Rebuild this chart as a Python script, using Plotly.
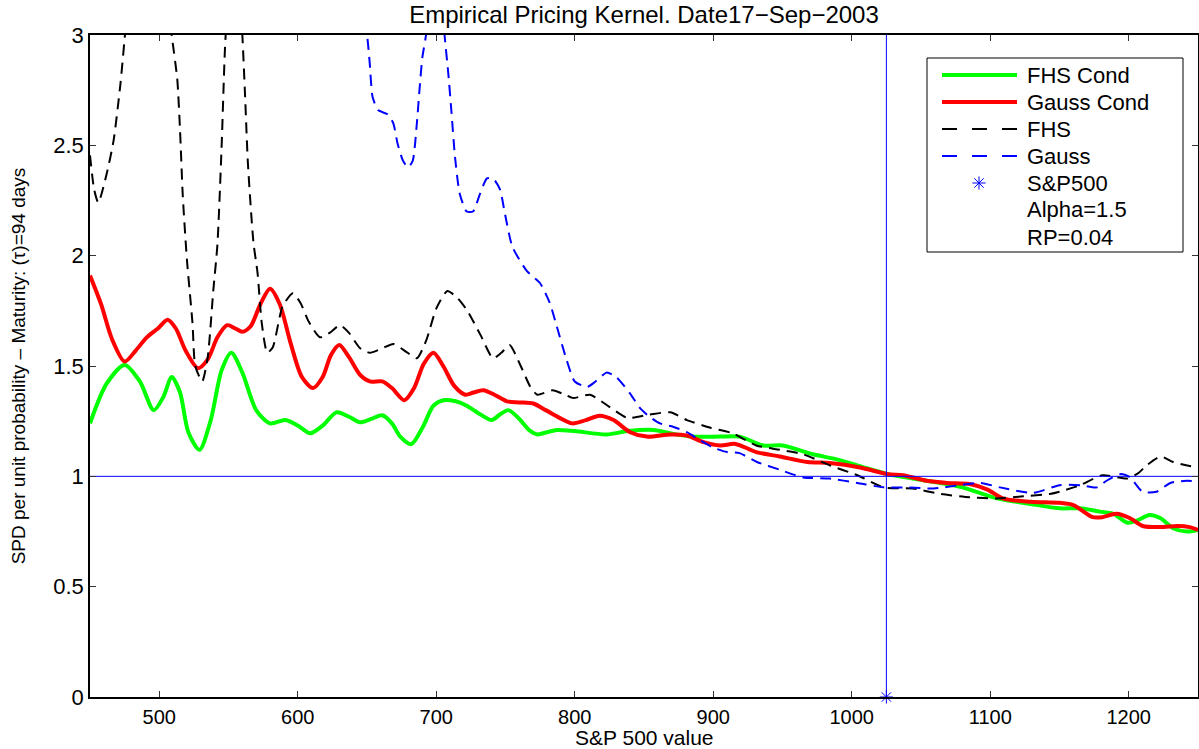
import plotly.graph_objects as go

# S&P 500 levels and kernel values
fhs_cond_x = [450, 462, 475, 486, 496, 503, 509, 515, 521, 529, 537, 545, 552, 560, 570, 580, 591, 600,
              609, 618, 628, 637, 645, 653, 661, 668, 674, 682, 690, 698, 705, 714, 722, 732, 740, 746,
              752, 760, 767, 773, 780, 787, 800, 823, 838, 857, 869, 885, 905, 919, 936, 950, 972, 987,
              1004, 1026, 1044, 1064, 1080, 1105, 1129, 1150, 1165, 1179, 1189, 1199, 1206, 1215, 1223,
              1232, 1242, 1250]
fhs_cond_y = [1.24, 1.42, 1.505, 1.43, 1.30, 1.36, 1.45, 1.38, 1.20, 1.12, 1.25, 1.48, 1.56, 1.47, 1.30,
              1.24, 1.255, 1.23, 1.195, 1.23, 1.29, 1.27, 1.245, 1.26, 1.277, 1.24, 1.18, 1.146, 1.22,
              1.32, 1.345, 1.34, 1.32, 1.28, 1.255, 1.28, 1.30, 1.26, 1.21, 1.19, 1.20, 1.21, 1.205, 1.19,
              1.205, 1.21, 1.195, 1.18, 1.18, 1.18, 1.14, 1.14, 1.10, 1.08, 1.05, 1.01, 0.99, 0.97, 0.95,
              0.90, 0.875, 0.855, 0.855, 0.84, 0.83, 0.79, 0.80, 0.825, 0.81, 0.765, 0.75, 0.757]

gauss_cond_x = [450, 458, 466, 475, 483, 491, 499, 506, 512, 519, 528, 535, 542, 549, 555, 560, 566, 573,
                580, 587, 595, 603, 611, 618, 624, 630, 637, 645, 652, 661, 668, 677, 684, 691, 698, 705,
                713, 721, 727, 734, 742, 751, 760, 770, 779, 789, 798, 808, 818, 828, 840, 852, 869, 881,
                893, 905, 916, 931, 948, 968, 984, 1006, 1026, 1037, 1054, 1069, 1085, 1098, 1109, 1129,
                1150, 1160, 1174, 1181, 1191, 1201, 1210, 1223, 1235, 1244, 1250]
gauss_cond_y = [1.91, 1.78, 1.62, 1.52, 1.57, 1.63, 1.67, 1.71, 1.67, 1.57, 1.49, 1.53, 1.63, 1.685, 1.67,
                1.655, 1.68, 1.78, 1.85, 1.78, 1.60, 1.45, 1.40, 1.45, 1.55, 1.595, 1.54, 1.46, 1.43, 1.43,
                1.40, 1.345, 1.40, 1.51, 1.56, 1.50, 1.41, 1.37, 1.38, 1.39, 1.37, 1.34, 1.335, 1.33, 1.30,
                1.265, 1.24, 1.255, 1.275, 1.255, 1.20, 1.18, 1.19, 1.185, 1.155, 1.14, 1.147, 1.11, 1.09,
                1.065, 1.06, 1.04, 1.01, 1.005, 0.98, 0.97, 0.965, 0.94, 0.90, 0.885, 0.88, 0.87, 0.815,
                0.815, 0.83, 0.81, 0.775, 0.77, 0.775, 0.77, 0.757]

fhs_x = [450, 453, 456, 462, 467, 472, 476, 482, 492, 502, 509, 513, 515, 517, 520, 524, 526, 531, 535,
         539, 542, 545, 547.5, 551, 554, 557, 560, 562, 564, 568, 571, 574, 578, 582, 589, 596.5, 602,
         608, 616, 623, 630.5, 637, 645, 652, 661, 669, 677, 686, 693, 700, 708, 715, 722, 732, 741, 747,
         753, 761, 768, 773, 784, 793, 799, 811, 825, 838, 854, 869, 881, 898, 914, 931, 948, 965, 984,
         1004, 1023, 1044, 1064, 1085, 1105, 1124, 1143, 1150, 1165, 1181, 1199, 1207, 1213, 1223, 1232,
         1244, 1250]
fhs_y = [2.455, 2.30, 2.24, 2.37, 2.52, 2.78, 3.05, 3.4, 3.7, 3.4, 3.0, 2.80, 2.57, 2.27, 1.98, 1.695,
         1.50, 1.43, 1.54, 1.84, 2.05, 2.49, 2.945, 3.3, 3.4, 3.3, 3.0, 2.72, 2.42, 2.06, 1.92, 1.695, 1.56,
         1.585, 1.77, 1.83, 1.785, 1.70, 1.63, 1.65, 1.685, 1.65, 1.58, 1.56, 1.58, 1.60, 1.57, 1.535,
         1.62, 1.76, 1.84, 1.81, 1.755, 1.64, 1.535, 1.56, 1.595, 1.50, 1.405, 1.37, 1.39, 1.37, 1.355,
         1.37, 1.315, 1.265, 1.28, 1.29, 1.255, 1.22, 1.195, 1.14, 1.12, 1.10, 1.05, 1.005, 0.95, 0.945,
         0.92, 0.905, 0.90, 0.91, 0.92, 0.93, 0.96, 1.005, 0.99, 1.015, 1.05, 1.09, 1.065, 1.047, 1.04]

gauss_x = [450, 500, 550, 600, 640, 648, 650, 652, 654, 658, 665, 669, 672, 676, 679.6, 683, 686, 688, 690,
           692.6, 696, 700, 703, 706, 708.5, 711, 713.5, 717, 722, 726.5, 731.6, 736.6, 741, 746, 749.6,
           755, 765.5, 775, 782, 787, 794, 800, 809, 815, 823, 830, 840, 847, 854, 861.5, 871, 881, 890,
           900, 910, 919, 931.5, 948, 965, 984, 1004, 1023, 1040, 1059, 1078, 1093, 1107, 1131, 1150, 1165,
           1177, 1184, 1194, 1201, 1210, 1220, 1230, 1242, 1250]
gauss_y = [4.5, 4.2, 3.9, 3.7, 3.3, 3.05, 3.0, 2.87, 2.72, 2.66, 2.64, 2.60, 2.51, 2.43, 2.40, 2.43, 2.60,
           2.76, 2.90, 3.0, 3.3, 3.4, 3.3, 3.0, 2.84, 2.65, 2.45, 2.28, 2.20, 2.20, 2.28, 2.35, 2.35, 2.30,
           2.19, 2.04, 1.93, 1.875, 1.785, 1.68, 1.53, 1.43, 1.405, 1.43, 1.47, 1.45, 1.375, 1.31, 1.27,
           1.24, 1.225, 1.20, 1.165, 1.13, 1.11, 1.105, 1.065, 1.03, 0.995, 0.99, 0.97, 0.95, 0.95, 0.945,
           0.96, 0.97, 0.95, 0.925, 0.96, 0.96, 0.95, 0.98, 1.01, 0.995, 0.93, 0.93, 0.97, 0.98, 0.975]

spx_level = 1025
x_range = [450, 1250]
y_range = [0, 3]
x_ticks = [500, 600, 700, 800, 900, 1000, 1100, 1200]
y_ticks = [0, 0.5, 1, 1.5, 2, 2.5, 3]
legend_labels = ["FHS Cond", "Gauss Cond", "FHS", "Gauss", "S&P500", "Alpha=1.5", "RP=0.04"]

FONT = "Liberation Sans, Arial, Helvetica, sans-serif"
DASH = "11px,7px"
W, H = 1199, 749
ML, MR, MT, MB = 90, 1, 35, 52
PW, PH = W - ML - MR, H - MT - MB

styles = {
    "FHS Cond": dict(color="#00ff00", width=4),
    "Gauss Cond": dict(color="#ff0000", width=4),
    "FHS": dict(color="#000000", width=2, dash=DASH),
    "Gauss": dict(color="#0000ff", width=2, dash=DASH),
}
star = dict(symbol="asterisk-open", size=11, color="#0000ff", line=dict(color="#0000ff", width=1))


def px_to_paper(px, py):
    return (px - ML) / PW, (H - MB - py) / PH


fig = go.Figure()

series = [("FHS Cond", fhs_cond_x, fhs_cond_y, 0.8), ("Gauss Cond", gauss_cond_x, gauss_cond_y, 0.8),
          ("FHS", fhs_x, fhs_y, 0.6), ("Gauss", gauss_x, gauss_y, 0.6)]
for name, xs, ys, sm in series:
    fig.add_trace(go.Scatter(x=xs, y=ys, mode="lines", name=name,
                             line=dict(shape="spline", smoothing=sm, **styles[name])))

# reference lines: unit kernel and current index level
fig.add_trace(go.Scatter(x=x_range, y=[1, 1], mode="lines", line=dict(color="#0000ff", width=1)))
fig.add_trace(go.Scatter(x=[spx_level, spx_level], y=y_range, mode="lines",
                         line=dict(color="#0000ff", width=1)))
fig.add_trace(go.Scatter(x=[spx_level], y=[0], mode="markers", name="S&P500", cliponaxis=False,
                         marker=star))

# MATLAB-style legend box; samples drawn on an overlay axis spanning the plot area
bx0, by0 = px_to_paper(927, 252)
bx1, by1 = px_to_paper(1183, 58)
fig.add_shape(type="rect", xref="paper", yref="paper", x0=bx0, y0=by0, x1=bx1, y1=by1,
              line=dict(color="black", width=1), fillcolor="white", layer="below")
for i, label in enumerate(legend_labels):
    row_y = 75 + 27 * i
    tx, ty = px_to_paper(1025, row_y)
    fig.add_annotation(x=tx, y=ty, xref="paper", yref="paper", text=label, showarrow=False,
                       xanchor="left", yanchor="middle",
                       font=dict(family=FONT, size=22, color="black"))
    if label in styles:
        ax0, ay = px_to_paper(942, row_y)
        ax1, _ = px_to_paper(1017, row_y)
        sample = dict(styles[label])
        if "dash" in sample:
            sample["dash"] = "15px,15px"
        fig.add_trace(go.Scatter(x=[ax0, ax1], y=[ay, ay], mode="lines", xaxis="x2", yaxis="y2",
                                 line=sample))
    elif label == "S&P500":
        mx, my = px_to_paper(979, row_y)
        fig.add_trace(go.Scatter(x=[mx], y=[my], mode="markers", xaxis="x2", yaxis="y2", marker=star))

axis_common = dict(
    showline=True, linecolor="black", linewidth=1.5, mirror="ticks",
    ticks="inside", ticklen=6, tickcolor="#333333", tickwidth=1,
    showgrid=False, zeroline=False, automargin=False,
)

xt, yt = px_to_paper(ML + PW / 2, 737)
fig.add_annotation(x=xt, y=yt, xref="paper", yref="paper", text="S&P 500 value", showarrow=False,
                   xanchor="center", yanchor="middle", font=dict(family=FONT, size=21, color="black"))

fig.update_layout(
    width=W, height=H,
    margin=dict(l=ML, r=MR, t=MT, b=MB),
    paper_bgcolor="white", plot_bgcolor="white",
    font=dict(family=FONT, color="black"),
    showlegend=False,
    title=dict(text="Empirical Pricing Kernel. Date17\u2212Sep\u22122003",
               x=(ML + PW / 2) / W, xanchor="center", y=1 - 15 / H, yanchor="middle",
               font=dict(size=24, family=FONT, color="black")),
    xaxis=dict(range=x_range, tickvals=x_ticks, ticklabelstandoff=1,
               tickfont=dict(family=FONT, size=20, color="black"), **axis_common),
    yaxis=dict(range=y_range, tickvals=y_ticks, ticklabelstandoff=0,
               tickfont=dict(family=FONT, size=22, color="black"),
               title=dict(text="SPD per unit probability \u2013 Maturity: (\u03c4)=94 days", standoff=23,
                          font=dict(size=19, family=FONT)),
               **axis_common),
    xaxis2=dict(range=[0, 1], overlaying="x", visible=False, fixedrange=True),
    yaxis2=dict(range=[0, 1], overlaying="y", visible=False, fixedrange=True),
)

fig.write_html("out.html", config={"displayModeBar": False},
               post_script="document.body.style.margin='0';")
